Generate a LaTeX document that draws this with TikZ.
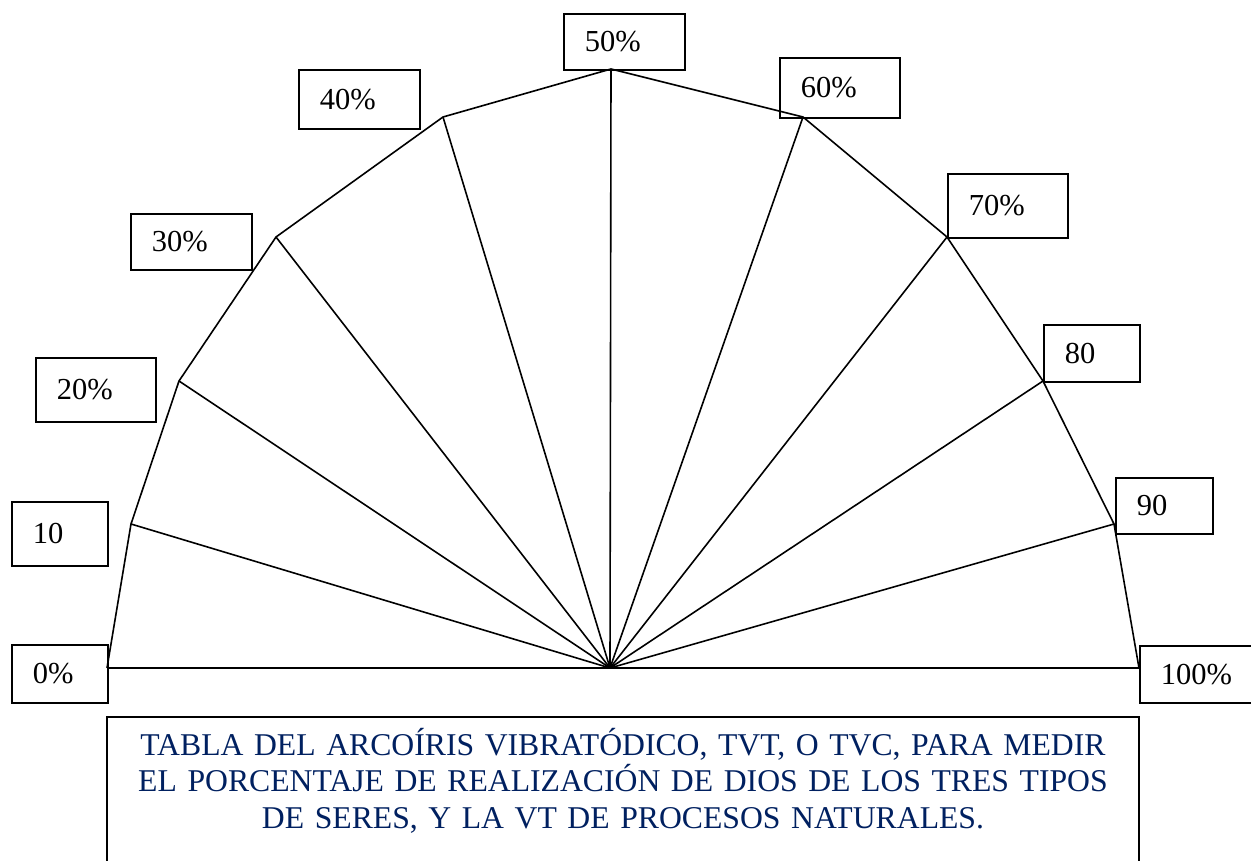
\documentclass[tikz,border=0pt]{standalone}
\usepackage{fontspec}
\setmainfont{Liberation Serif}
\definecolor{titleblue}{RGB}{0,32,96}
\begin{document}
\begin{tikzpicture}[x=1pt,y=-1pt,
		pct/.style={draw, line width=1.8pt, align=left, inner xsep=21pt, inner ysep=0pt,
			anchor=north west, font=\fontsize{30.5}{36}\selectfont},
		ray/.style={line width=1.6pt}]
			\useasboundingbox (0,0) rectangle (1251,860);

			\coordinate (c) at (610,668);
			\coordinate (v0) at (107,668);
			\coordinate (v10) at (131,524);
			\coordinate (v20) at (179,381);
			\coordinate (v30) at (276,237);
			\coordinate (v40) at (443,117);
			\coordinate (v50) at (611,69);
			\coordinate (v60) at (803,117);
			\coordinate (v70) at (947,237);
			\coordinate (v80) at (1043,381);
			\coordinate (v90) at (1114,524);
			\coordinate (v100) at (1139,668);

			% Draw the outline
			\draw[ray] (v0) -- (v10) -- (v20) -- (v30) -- (v40) -- (v50) -- (v60)
				-- (v70) -- (v80) -- (v90) -- (v100) -- (v0);

			% Draw the spokes
			\draw[ray] (c) -- (v10);
			\draw[ray] (c) -- (v20);
			\draw[ray] (c) -- (v30);
			\draw[ray] (c) -- (v40);
			\draw[ray] (c) -- (v50);
			\draw[ray] (c) -- (v60);
			\draw[ray] (c) -- (v70);
			\draw[ray] (c) -- (v80);
			\draw[ray] (c) -- (v90);

			% Label the spokes
			\node[pct, text width=54pt, minimum height=58pt] (b0) at (11,644) {0\%};
			\node[pct, text width=54pt, minimum height=64pt] (b10) at (11,501) {10};
			\node[pct, text width=78pt, minimum height=64pt] (b20) at (35,357) {20\%};
			\node[pct, text width=79pt, minimum height=56pt] (b30) at (130,213) {30\%};
			\node[pct, text width=79pt, minimum height=59pt] (b40) at (298,69) {40\%};
			\node[pct, text width=79pt, minimum height=56pt] (b50) at (563,13) {50\%};
			\node[pct, text width=78pt, minimum height=60pt] (b60) at (779,57) {60\%};
			\node[pct, text width=78pt, minimum height=64pt] (b70) at (947,173) {70\%};
			\node[pct, text width=54pt, minimum height=57pt] (b80) at (1043,324) {80};
			\node[pct, text width=55pt, minimum height=56pt] (b90) at (1115,477) {90};
			\node[pct, text width=70pt, minimum height=57pt] (b100) at (1139,645) {100\%};

			% Title box
			\draw[line width=2.2pt] (107,880) -- (107,717) -- (1139,717) -- (1139,880);
			\node[anchor=north, inner sep=0pt, align=center, text width=1000pt, text=titleblue,
				font=\fontsize{31.7}{36.5}\selectfont] (title) at (623,728)
				{TABLA DEL ARCOÍRIS VIBRATÓDICO, TVT, O TVC, PARA MEDIR\\
				EL PORCENTAJE DE REALIZACIÓN DE DIOS DE LOS TRES TIPOS\\
				DE SERES, Y LA VT DE PROCESOS NATURALES.};

		\end{tikzpicture}
\end{document}
